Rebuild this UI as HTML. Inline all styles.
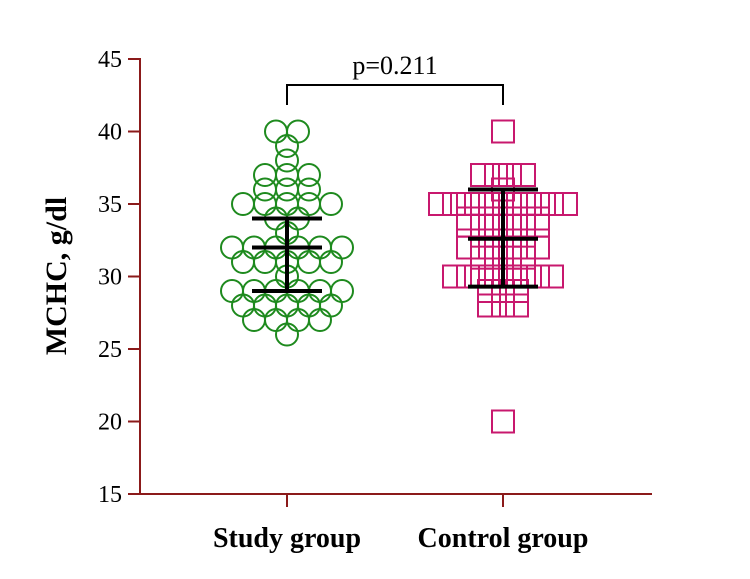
<!DOCTYPE html>
<html><head><meta charset="utf-8"><style>
body{margin:0;background:#fff}
svg{display:block;font-family:"Liberation Serif",serif}
</style></head><body>
<svg id="chart" width="750" height="579">
<g id="axes"></g><g id="marks"></g>
</svg>
<script>
const yTicks=[15,20,25,30,35,40,45];
const groups=["Study group","Control group"];
const studyValues=[40,40,39,38,37,37,37,36,36,36,35,35,35,35,35,34,34,33,32,32,32,32,32,32,31,31,31,31,31,30,29,29,29,29,29,29,28,28,28,28,28,27,27,27,27,26];
const controlValues=[40,37,37,37,37,36,35,35,35,35,35,35,35,35,35,35,34,34,34,34,34,34,33.5,33.5,33.5,33.5,33.5,33.5,32,32,32,32,32,32,31.3,31.3,31.3,31.3,30,30,30,30,30,30,30,30,29,29,29,28,28,28,20];
const means=[32,32.6];
const sdLow=[29,29.3];
const sdHigh=[34,36];
const pText="p=0.211";

const NS="http://www.w3.org/2000/svg";
const y=v=>494-(v-15)*14.5;
const xc=i=>[287,503][i];
function mk(tag,attrs,parent){const e=document.createElementNS(NS,tag);for(const k in attrs)e.setAttribute(k,attrs[k]);parent.appendChild(e);return e;}
const axes=document.getElementById('axes'),marks=document.getElementById('marks');
const ax='#8b1a1a';
let e=mk('line',{x1:140,y1:58,x2:140,y2:494,stroke:ax,'stroke-width':2},axes);

e=mk('line',{x1:139,y1:494,x2:652,y2:494,stroke:ax,'stroke-width':2},axes);

yTicks.forEach(t=>{
 mk('line',{x1:128,y1:y(t),x2:140,y2:y(t),stroke:ax,'stroke-width':2},axes);
 e=mk('text',{x:122,y:y(t)+8,'text-anchor':'end','font-size':24},axes);e.textContent=t;
 
});
groups.forEach((g,i)=>{
 mk('line',{x1:xc(i),y1:494,x2:xc(i),y2:507,stroke:ax,'stroke-width':2},axes);
 e=mk('text',{x:xc(i),y:547,'text-anchor':'middle','font-size':28,'font-weight':'bold'},axes);e.textContent=g;
 
});
e=mk('text',{x:0,y:0,transform:'translate(66,276) rotate(-90)','text-anchor':'middle','font-size':30,'font-weight':'bold'},axes);
e.textContent='MCHC, g/dl';


function swarm(vals,i,shape,col,sp){
 const cnt={},idx={};vals.forEach(v=>cnt[v]=(cnt[v]||0)+1);
 vals.forEach(v=>{idx[v]=(idx[v]||0);const k=idx[v]++;const n=cnt[v];
  const px=xc(i)+(k-(n-1)/2)*sp;const py=y(v);
  let m;
  if(shape==='c')m=mk('circle',{cx:px,cy:py,r:11,fill:'none',stroke:col,'stroke-width':2},marks);
  else m=mk('rect',{x:px-11,y:py-11,width:22,height:22,fill:'none',stroke:col,'stroke-width':2},marks);
  
  
 });
}
swarm(studyValues,0,'c','#1e8a1e',22);
swarm(controlValues,1,'s','#c8186e',14);
[0,1].forEach(i=>{
 const g=mk('g',{stroke:'#000','stroke-width':4},marks);
 
 mk('line',{x1:xc(i),y1:y(sdHigh[i]),x2:xc(i),y2:y(sdLow[i])},g);
 [sdHigh[i],means[i],sdLow[i]].forEach(v=>mk('line',{x1:xc(i)-35,y1:y(v),x2:xc(i)+35,y2:y(v)},g));
});
e=mk('path',{d:`M${xc(0)},105 V85 H${xc(1)} V105`,fill:'none',stroke:'#000','stroke-width':2},axes);

e=mk('text',{x:395,y:74,'text-anchor':'middle','font-size':26},axes);e.textContent=pText;

</script>
</body></html>
